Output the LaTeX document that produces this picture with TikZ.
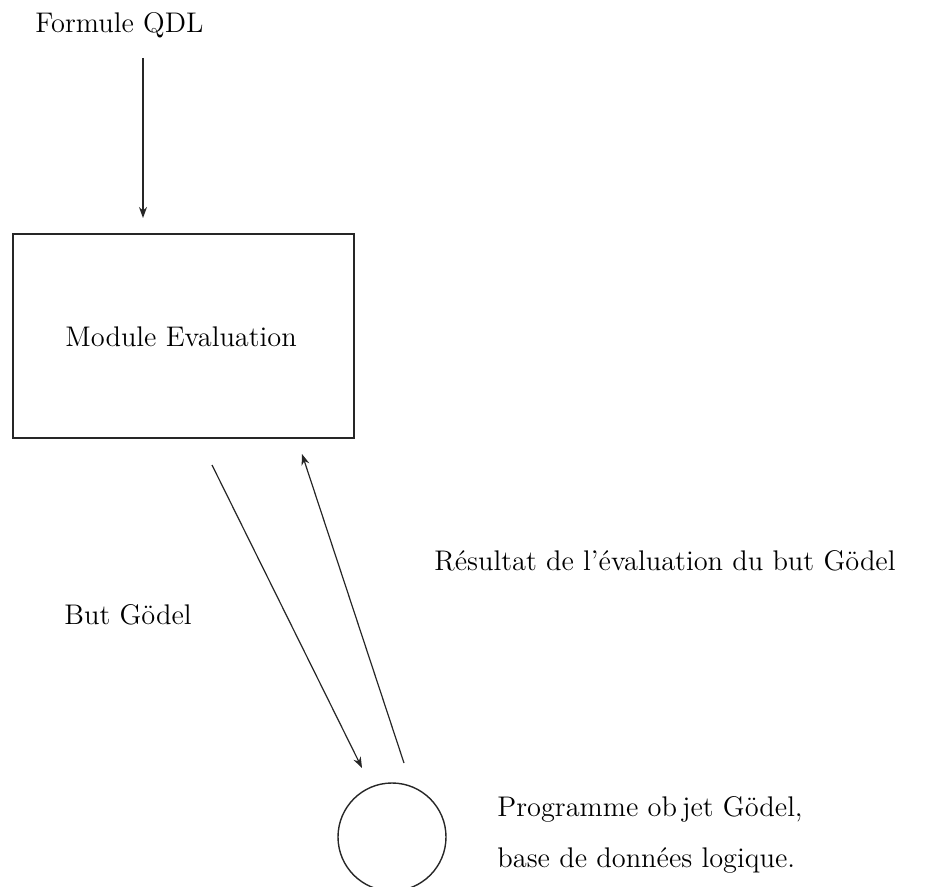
\documentclass[tikz,border=0pt]{standalone}
\usetikzlibrary{arrows.meta}
\begin{document}
\begin{tikzpicture}[x=0.5pt,y=-0.5pt,
  lbl/.style={anchor=base west,inner sep=0pt,font=\fontsize{14.2}{17}\selectfont},
  conn/.style={line width=0.6pt,draw=black!85,-{Stealth[length=5.5pt,width=4pt]}},
  boxnode/.style={draw=black!85,line width=0.7pt,minimum width=170.5pt,minimum height=102pt,inner sep=0pt},
  circnode/.style={draw=black!85,line width=0.7pt,circle,minimum size=54pt,inner sep=0pt}]
\useasboundingbox (0,0) rectangle (926,887);
\node[lbl] (formule) at (35,33) {Formule QDL};
\node[boxnode] (module) at (183.5,336) {};
\node[lbl] (modtext) at (65,347) {Module Evaluation};
\node[circnode] (prog) at (392,837) {};
\node[lbl] (res) at (434,570) {Résultat de l'évaluation du but Gödel};
\node[lbl] (but) at (64,624) {But Gödel};
\node[lbl] (progl1) at (497,816) {Programme ob\kern2.5pt jet Gödel,};
\node[lbl] (progl2) at (497,867) {base de données logique.};
\coordinate (a1s) at (143,58);
\coordinate (a1e) at (143,218);
\coordinate (a2s) at (212,465);
\coordinate (a2e) at (362,768);
\coordinate (a3s) at (404,763);
\coordinate (a3e) at (302,454);
\draw[conn] (a1s) -- (a1e);
\draw[conn] (a2s) -- (a2e);
\draw[conn] (a3s) -- (a3e);
\end{tikzpicture}
\end{document}
